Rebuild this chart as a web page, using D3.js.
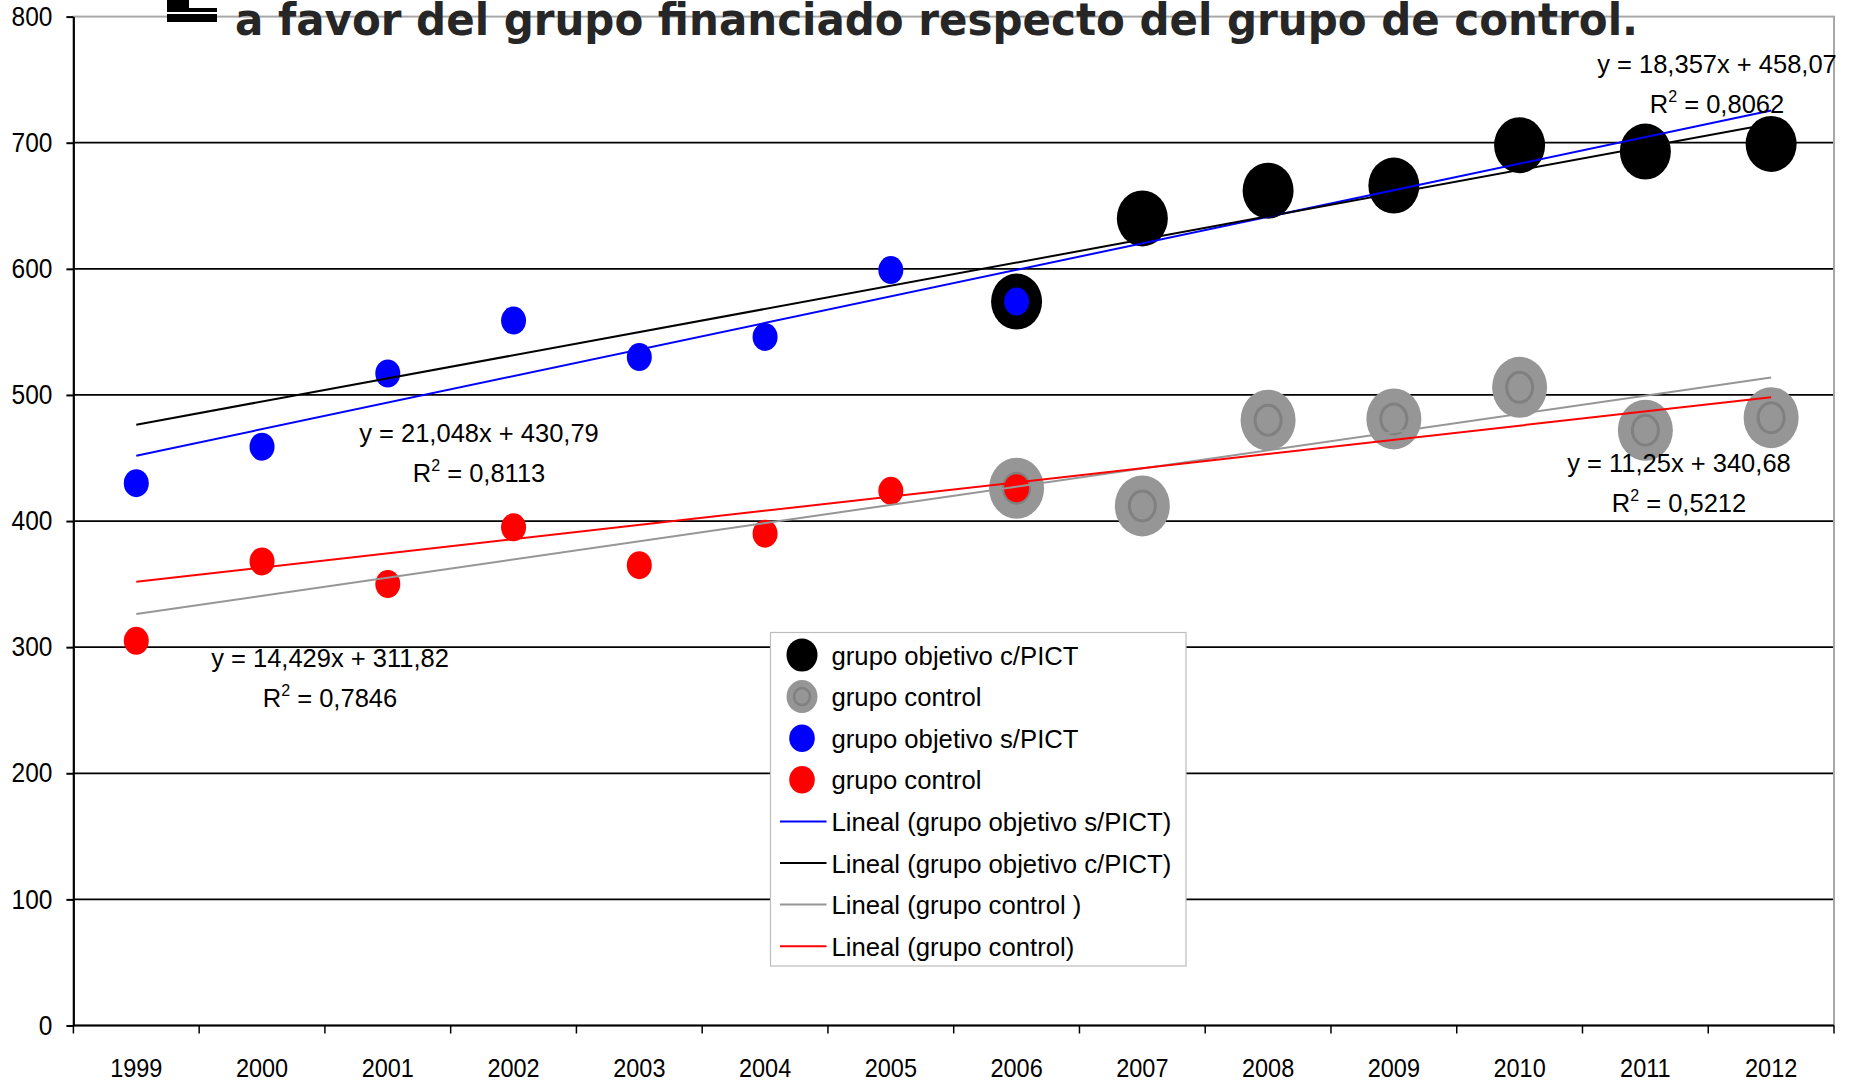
<!DOCTYPE html>
<html>
<head>
<meta charset="utf-8">
<script src="https://cdn.jsdelivr.net/npm/d3@7"></script>
<style>
  body { margin: 0; background: #fff; }
  svg { display: block; font-family: "Liberation Sans", Arial, sans-serif; }
</style>
</head>
<body>
<svg id="chart" width="1855" height="1081"></svg>
<script>
// años (eje de categorías)
const years = ['1999', '2000', '2001', '2002', '2003', '2004', '2005', '2006', '2007', '2008', '2009', '2010', '2011', '2012'];

// series de puntos, alineadas con years
const objetivoConPict = [null, null, null, null, null, null, null, 574, 640, 662, 666, 698, 693, 699];
const controlGrande   = [null, null, null, null, null, null, null, 426, 412, 480, 481, 506, 472, 482];
const objetivoSinPict = [430, 459, 517, 559, 530, 546, 599, 574, null, null, null, null, null, null];
const controlChico    = [305, 368, 350, 395, 365, 390, 424, 426, null, null, null, null, null, null];

// líneas de tendencia (orden de la leyenda)
const trendNames      = ['Lineal (grupo objetivo s/PICT)', 'Lineal (grupo objetivo c/PICT)', 'Lineal (grupo control )', 'Lineal (grupo control)'];
const trendSlopes     = [21.048, 18.357, 14.429, 11.25];
const trendIntercepts = [430.79, 458.07, 311.82, 340.68];
const trendR2         = [0.8113, 0.8062, 0.7846, 0.5212];
const trendColors     = ['#0000ff', '#000000', '#969696', '#ff0000'];

const yTicks = d3.range(0, 801, 100);

const svg = d3.select('#chart');
const pLeft = 73.4, pRight = 1834, pTop = 16.6, pBottom = 1025.5;

const x = d3.scaleBand().domain(years).range([pLeft, pRight]).padding(0);
const y = d3.scaleLinear().domain([0, 800]).range([pBottom, pTop]);
const cx = d => x(d) + x.bandwidth() / 2;

// rejilla
svg.append('g').selectAll('line').data(yTicks.filter(t => t > 0 && t < 800)).join('line')
  .attr('x1', pLeft).attr('x2', pRight)
  .attr('y1', d => y(d)).attr('y2', d => y(d))
  .attr('stroke', '#000').attr('stroke-width', 1.8);

// borde del área de trazado
svg.append('rect')
  .attr('x', pLeft).attr('y', pTop).attr('width', pRight - pLeft).attr('height', pBottom - pTop)
  .attr('fill', 'none').attr('stroke', '#a8a8a8').attr('stroke-width', 2);

// marcadores
function markers(vals, rx, ry, fill, ring) {
  const pts = years.map((yr, i) => ({ yr, v: vals[i] })).filter(d => d.v != null);
  const g = svg.append('g');
  g.selectAll('ellipse.m').data(pts).join('ellipse').attr('class', 'm')
    .attr('cx', d => cx(d.yr)).attr('cy', d => y(d.v))
    .attr('rx', rx).attr('ry', ry).attr('fill', fill);
  if (ring) {
    g.selectAll('ellipse.r').data(pts).join('ellipse').attr('class', 'r')
      .attr('cx', d => cx(d.yr)).attr('cy', d => y(d.v))
      .attr('rx', 13).attr('ry', 15).attr('fill', 'none')
      .attr('stroke', '#808080').attr('stroke-width', 3);
  }
}
markers(objetivoConPict, 25.5, 28, '#000');
markers(controlGrande, 27.5, 30.5, '#969696', true);
markers(objetivoSinPict, 12.5, 14, '#0000ff');
markers(controlChico, 12.5, 14, '#ff0000');

// tendencias: x = 1..14 (posición de categoría)
const trendG = svg.append('g');
trendNames.forEach((n, k) => {
  const f = i => trendSlopes[k] * (i + 1) + trendIntercepts[k];
  const first = 0, last = years.length - 1;
  trendG.append('line')
    .attr('x1', cx(years[first])).attr('y1', y(f(first)))
    .attr('x2', cx(years[last])).attr('y2', y(f(last)))
    .attr('stroke', trendColors[k]).attr('stroke-width', 2);
});

// eje Y
const yAxis = svg.append('g').attr('transform', `translate(${pLeft},0)`)
  .call(d3.axisLeft(y).tickValues(yTicks).tickSize(7).tickSizeOuter(0).tickPadding(14));
yAxis.select('.domain').attr('stroke', '#000').attr('stroke-width', 2);
yAxis.selectAll('.tick line').attr('stroke', '#000').attr('stroke-width', 2);
yAxis.selectAll('.tick text').attr('font-size', 24.5).attr('fill', '#000')
  .attr('font-family', '"Liberation Sans", Arial, sans-serif')
  .attr('transform', 'scale(1,1.1)');

// eje X
const xg = svg.append('g');
xg.append('line').attr('x1', pLeft).attr('x2', pRight).attr('y1', pBottom).attr('y2', pBottom)
  .attr('stroke', '#000').attr('stroke-width', 2);
const edges = years.map(d => x(d)).concat([x(years[years.length - 1]) + x.bandwidth()]);
xg.selectAll('line.t').data(edges).join('line').attr('class', 't')
  .attr('x1', d => d).attr('x2', d => d).attr('y1', pBottom).attr('y2', pBottom + 8)
  .attr('stroke', '#000').attr('stroke-width', 1.5);
xg.selectAll('text').data(years).join('text')
  .attr('transform', d => `translate(${cx(d)},${pBottom + 51}) scale(1,1.1)`)
  .attr('text-anchor', 'middle').attr('font-size', 23.5).attr('fill', '#000')
  .text(d => d);

// ecuaciones
const fmt = v => String(v).replace('.', ',');
const eqPos = [[479, 442], [1717, 73], [330, 667], [1679, 472]];
trendNames.forEach((n, k) => {
  const g = svg.append('g').attr('font-size', 25.5).attr('fill', '#000').attr('text-anchor', 'middle');
  g.append('text').attr('x', eqPos[k][0]).attr('y', eqPos[k][1])
    .text(`y = ${fmt(trendSlopes[k])}x + ${fmt(trendIntercepts[k])}`);
  const t = g.append('text').attr('x', eqPos[k][0]).attr('y', eqPos[k][1] + 40);
  t.append('tspan').text('R');
  t.append('tspan').attr('font-size', 16).attr('dy', -11).text('2');
  t.append('tspan').attr('dy', 11).text(` = ${fmt(trendR2[k])}`);
});

// leyenda
const lg = svg.append('g');
lg.append('rect').attr('x', 770.5).attr('y', 632.5).attr('width', 415.5).attr('height', 333.5)
  .attr('fill', '#fff').attr('stroke', '#bdbdbd').attr('stroke-width', 1.2);
const legendItems = [
  { label: 'grupo objetivo c/PICT', type: 'm', fill: '#000', rx: 15.5, ry: 16.5 },
  { label: 'grupo control', type: 'm', fill: '#969696', rx: 15.5, ry: 16.5, ring: true },
  { label: 'grupo objetivo s/PICT', type: 'm', fill: '#0000ff', rx: 12.8, ry: 13.7 },
  { label: 'grupo control', type: 'm', fill: '#ff0000', rx: 12.8, ry: 13.7 }
].concat(trendNames.map((n, k) => ({ label: n, type: 'l', color: trendColors[k] })));
legendItems.forEach((it, i) => {
  const yy = 655 + i * 41.6;
  if (it.type === 'm') {
    lg.append('ellipse').attr('cx', 802).attr('cy', yy).attr('rx', it.rx).attr('ry', it.ry).attr('fill', it.fill);
    if (it.ring) lg.append('ellipse').attr('cx', 802).attr('cy', yy).attr('rx', 8).attr('ry', 8.5)
      .attr('fill', 'none').attr('stroke', '#808080').attr('stroke-width', 2.5);
  } else {
    lg.append('line').attr('x1', 780).attr('x2', 826.5).attr('y1', yy).attr('y2', yy)
      .attr('stroke', it.color).attr('stroke-width', 2);
  }
  lg.append('text').attr('x', 831.5).attr('y', yy + 9.5).attr('font-size', 25.7).attr('fill', '#000')
    .text(it.label);
});

// título (recortado en el borde superior, como en el original)
svg.append('rect').attr('x', 167).attr('y', 0).attr('width', 22).attr('height', 10).attr('fill', '#000');
svg.append('rect').attr('x', 167).attr('y', 8).attr('width', 50).attr('height', 4).attr('fill', '#000');
svg.append('rect').attr('x', 167).attr('y', 14).attr('width', 50).attr('height', 8).attr('fill', '#000');
svg.append('text').attr('x', 235).attr('y', 35)
  .attr('font-family', '"DejaVu Sans", Verdana, sans-serif').attr('font-weight', 'bold')
  .attr('font-size', 45).attr('fill', '#262626')
  .attr('textLength', 1403).attr('lengthAdjust', 'spacingAndGlyphs')
  .text('a favor del grupo financiado respecto del grupo de control.');
</script>
</body>
</html>
